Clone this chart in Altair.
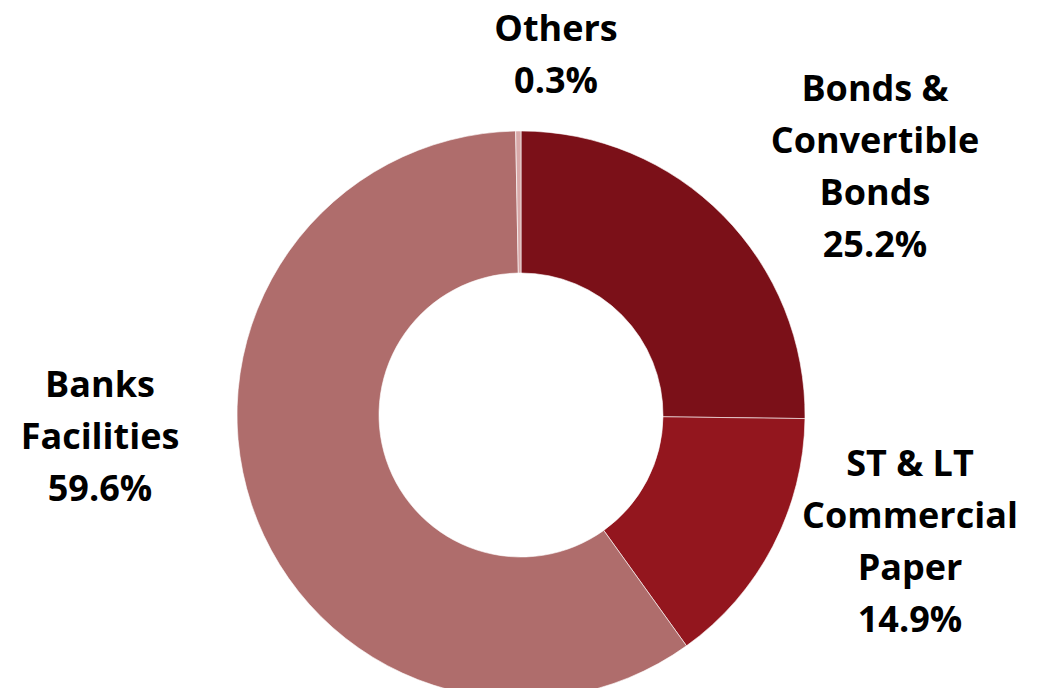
import altair as alt
import pandas as pd

categories = ["Bonds & Convertible Bonds", "ST & LT Commercial Paper", "Banks Facilities", "Others"]
label_lines = [["Bonds &", "Convertible", "Bonds"], ["ST & LT", "Commercial", "Paper"], ["Banks", "Facilities"], ["Others"]]
values = [25.2, 14.9, 59.6, 0.3]
colors = ["#7B1018", "#93161E", "#AF6D6C", "#D8A9A9"]

df = pd.DataFrame({
    "cat": categories,
    "value": values,
    "order": list(range(len(categories))),
})
df["label"] = [lines + [f"{v:.1f}%"] for lines, v in zip(label_lines, values)]

CX, CY = 513, 407

base = alt.Chart(df)

donut = base.mark_arc(outerRadius=284, innerRadius=142, stroke="#ffffff", strokeWidth=0.6).encode(
    theta=alt.Theta("value:Q", stack=True),
    order=alt.Order("order:Q"),
    color=alt.Color("cat:N", scale=alt.Scale(domain=categories, range=colors), legend=None),
    x=alt.value(CX),
    y=alt.value(CY),
)

# position of the first line of each label (chart coordinates)
label_pos = {
    categories[0]: (867, 82),
    categories[1]: (902, 457),
    categories[2]: (92, 378),
    categories[3]: (548, 22),
}

layers = [donut]
for cat, (lx, ly) in label_pos.items():
    layers.append(
        base.transform_filter(alt.datum.cat == cat)
        .mark_text(font="Open Sans", fontWeight="bold", fontSize=36, color="#000000",
                   align="center", baseline="middle", lineHeight=52)
        .encode(text="label", x=alt.value(lx), y=alt.value(ly))
    )

chart = alt.layer(*layers).properties(
    width=1023, height=680,
    autosize=alt.AutoSizeParams(type="none"),
    padding=0,
).configure_view(stroke=None)

chart.save("out.html", embed_options={"renderer": "svg", "actions": False})
